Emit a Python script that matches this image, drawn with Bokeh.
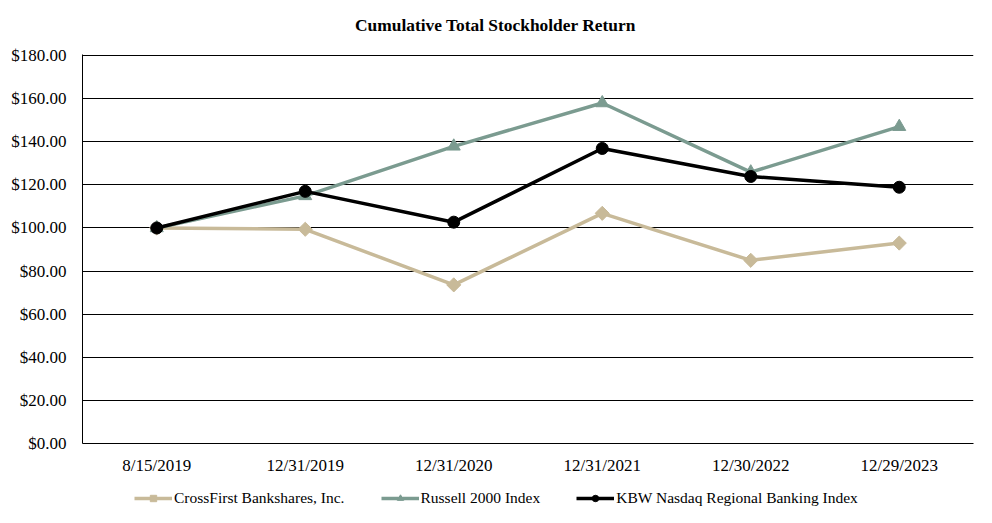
import math
from bokeh.plotting import figure
from bokeh.layouts import column
from bokeh.models import (NumeralTickFormatter, Legend, LegendItem, FixedTicker,
                          Label, Range1d)
from bokeh.embed import file_html
from bokeh.resources import INLINE

dates = ["8/15/2019", "12/31/2019", "12/31/2020", "12/31/2021", "12/30/2022", "12/29/2023"]
crossfirst = [100.0, 99.4, 73.6, 106.8, 85.0, 93.0]
russell = [100.0, 114.9, 137.9, 158.0, 125.9, 147.0]
kbw = [100.0, 117.0, 102.7, 136.9, 123.9, 118.9]
yticks = [0, 20, 40, 60, 80, 100, 120, 140, 160, 180]
title_text = "Cumulative Total Stockholder Return"
series_names = ["CrossFirst Bankshares, Inc.", "Russell 2000 Index",
                "KBW Nasdaq Regional Banking Index"]

TAN = "#C8BA99"
GREEN = "#7B9B90"
FONT = "Liberation Serif"
LEFT, FW, RIGHT = 82, 891, 3

# ---- header with title ----
head = figure(frame_width=FW, frame_height=45,
              x_range=Range1d(LEFT, LEFT + FW), y_range=Range1d(0, 45),
              output_backend="svg", toolbar_location=None,
              x_axis_location=None, y_axis_location=None,
              min_border_left=LEFT, min_border_right=RIGHT,
              min_border_top=0, min_border_bottom=0)
head.outline_line_color = None
head.grid.visible = False
head.add_layout(Label(x=495, y=21, text=title_text, text_font=FONT,
                      text_font_size="17.4px", text_font_style="bold",
                      text_color="black", text_align="center",
                      text_baseline="middle"))

# ---- main chart ----
p = figure(x_range=dates, y_range=(0, 180.5), frame_width=FW, frame_height=389,
           output_backend="svg", toolbar_location=None,
           min_border_left=LEFT, min_border_right=RIGHT, min_border_top=9,
           min_border_bottom=37)
p.outline_line_color = None
p.background_fill_color = "white"
p.border_fill_color = "white"
p.xgrid.grid_line_color = None
p.ygrid.grid_line_color = "black"
p.ygrid.grid_line_width = 1
p.yaxis.ticker = FixedTicker(ticks=yticks)
p.yaxis.formatter = NumeralTickFormatter(format="$0.00")
for ax in (p.xaxis[0], p.yaxis[0]):
    ax.axis_line_color = "black"
    ax.axis_line_width = 1
    ax.major_tick_line_color = None
    ax.minor_tick_line_color = None
    ax.major_label_text_font = FONT
    ax.major_label_text_font_size = "17px"
    ax.major_label_text_color = "black"
p.yaxis.major_label_standoff = 10
p.xaxis.major_label_standoff = 6


def draw(fig):
    l1 = fig.line(dates, crossfirst, line_color=TAN, line_width=3.5)
    m1 = fig.scatter(dates, crossfirst, marker="square", size=10, angle=math.pi / 4,
                     fill_color=TAN, line_color=TAN)
    l2 = fig.line(dates, russell, line_color=GREEN, line_width=3.5)
    m2 = fig.scatter(dates, russell, marker="triangle", size=13,
                     fill_color=GREEN, line_color=GREEN)
    l3 = fig.line(dates, kbw, line_color="black", line_width=3.5)
    m3 = fig.scatter(dates, kbw, marker="circle", size=12,
                     fill_color="black", line_color="black")
    return [[l1, m1], [l2, m2], [l3, m3]]


draw(p)

# ---- legend strip ----
leg = figure(x_range=dates, y_range=Range1d(1000, 1001), frame_width=FW, frame_height=35,
             output_backend="svg", toolbar_location=None,
             x_axis_location=None, y_axis_location=None,
             min_border_left=LEFT, min_border_right=RIGHT, min_border_top=0,
             min_border_bottom=0)
leg.outline_line_color = None
leg.grid.visible = False
rs = draw(leg)
legend = Legend(items=[LegendItem(label=n, renderers=r) for n, r in zip(series_names, rs)],
                orientation="horizontal", location=(52, 8))
legend.label_text_font = FONT
legend.label_text_font_size = "15.5px"
legend.label_text_color = "black"
legend.glyph_width = 38
legend.glyph_height = 16
legend.label_height = 16
legend.label_standoff = 2
legend.spacing = 36
legend.border_line_color = None
legend.background_fill_alpha = 0
legend.padding = 2
legend.margin = 0
leg.add_layout(legend, "center")

layout = column(head, p, leg, spacing=0)
open("out.html", "w").write(file_html(layout, INLINE))
